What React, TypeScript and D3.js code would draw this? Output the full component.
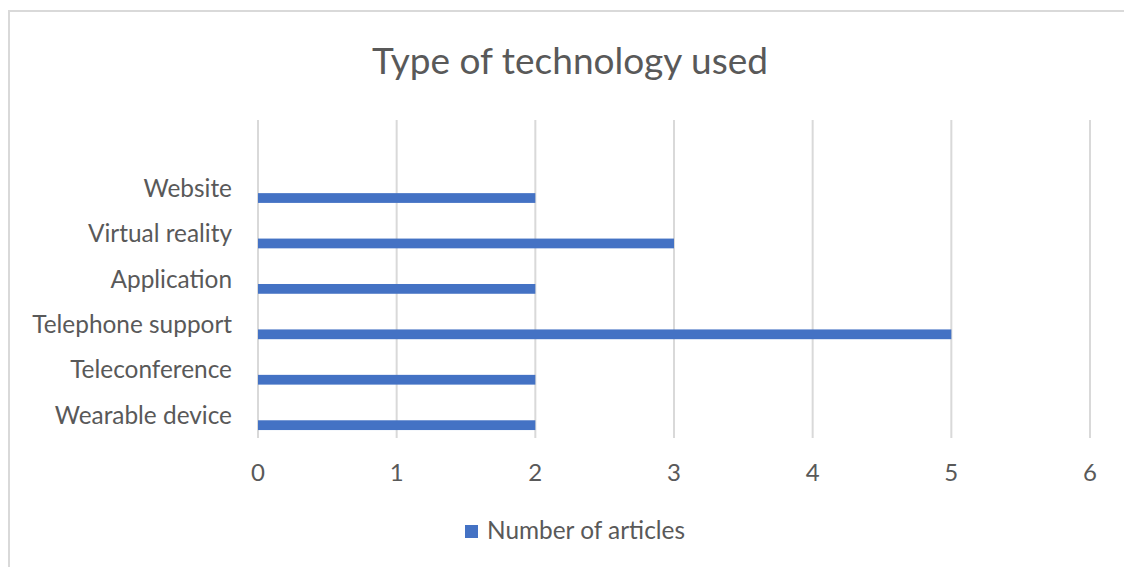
import React from "react";
import * as d3 from "d3";

const categories = ["Website", "Virtual reality", "Application", "Telephone support", "Teleconference", "Wearable device"];
const articleCounts = [2, 3, 2, 5, 2, 2];
const xTicks = [0, 1, 2, 3, 4, 5, 6];
const seriesName = "Number of articles";
const chartTitle = "Type of technology used";

const W = 1124;
const H = 567;
const FONT = "Lato, 'Open Sans', sans-serif";
const TEXT = "#595959";
const GRID = "#D9D9D9";
const BAR = "#4472C4";

export default function App() {
  const left = 258;
  const right = 1090;
  const top = 120;
  const bottom = 438;

  const x = d3.scaleLinear().domain([0, 6]).range([left, right]);
  // an empty slot sits above the first category
  const y = d3
    .scaleBand<string>()
    .domain(["", ...categories])
    .range([top, bottom])
    .paddingInner(0)
    .paddingOuter(0);
  const bw = y.bandwidth();

  return (
    <svg
      width={W}
      height={H}
      style={{ position: "absolute", left: 0, top: 0, background: "#fff" }}
      fontFamily={FONT}
    >
      <rect x={9} y={11} width={W + 20} height={H + 20} fill="#fff" stroke={GRID} strokeWidth={2} />
      <text x={570} y={74} textAnchor="middle" fontSize={37} fill={TEXT}>
        {chartTitle}
      </text>
      {xTicks.map((t) => (
        <g key={t}>
          <line x1={x(t)} x2={x(t)} y1={top} y2={bottom} stroke={GRID} strokeWidth={2} />
          <text x={x(t)} y={481} textAnchor="middle" fontSize={24} fill={TEXT}>
            {t}
          </text>
        </g>
      ))}
      {categories.map((c, i) => {
        const y0 = y(c)!;
        return (
          <g key={c}>
            <text x={232} y={y0 + bw / 2 + 8.5} textAnchor="end" fontSize={24.4} fill={TEXT}>
              {c}
            </text>
            <rect
              x={x(0)}
              y={y0 + bw * 0.61}
              width={x(articleCounts[i]) - x(0)}
              height={bw * 0.215}
              fill={BAR}
            />
          </g>
        );
      })}
      <rect x={465} y={525} width={13} height={13} fill={BAR} />
      <text x={487} y={539} fontSize={24.4} fill={TEXT}>
        {seriesName}
      </text>
    </svg>
  );
}
